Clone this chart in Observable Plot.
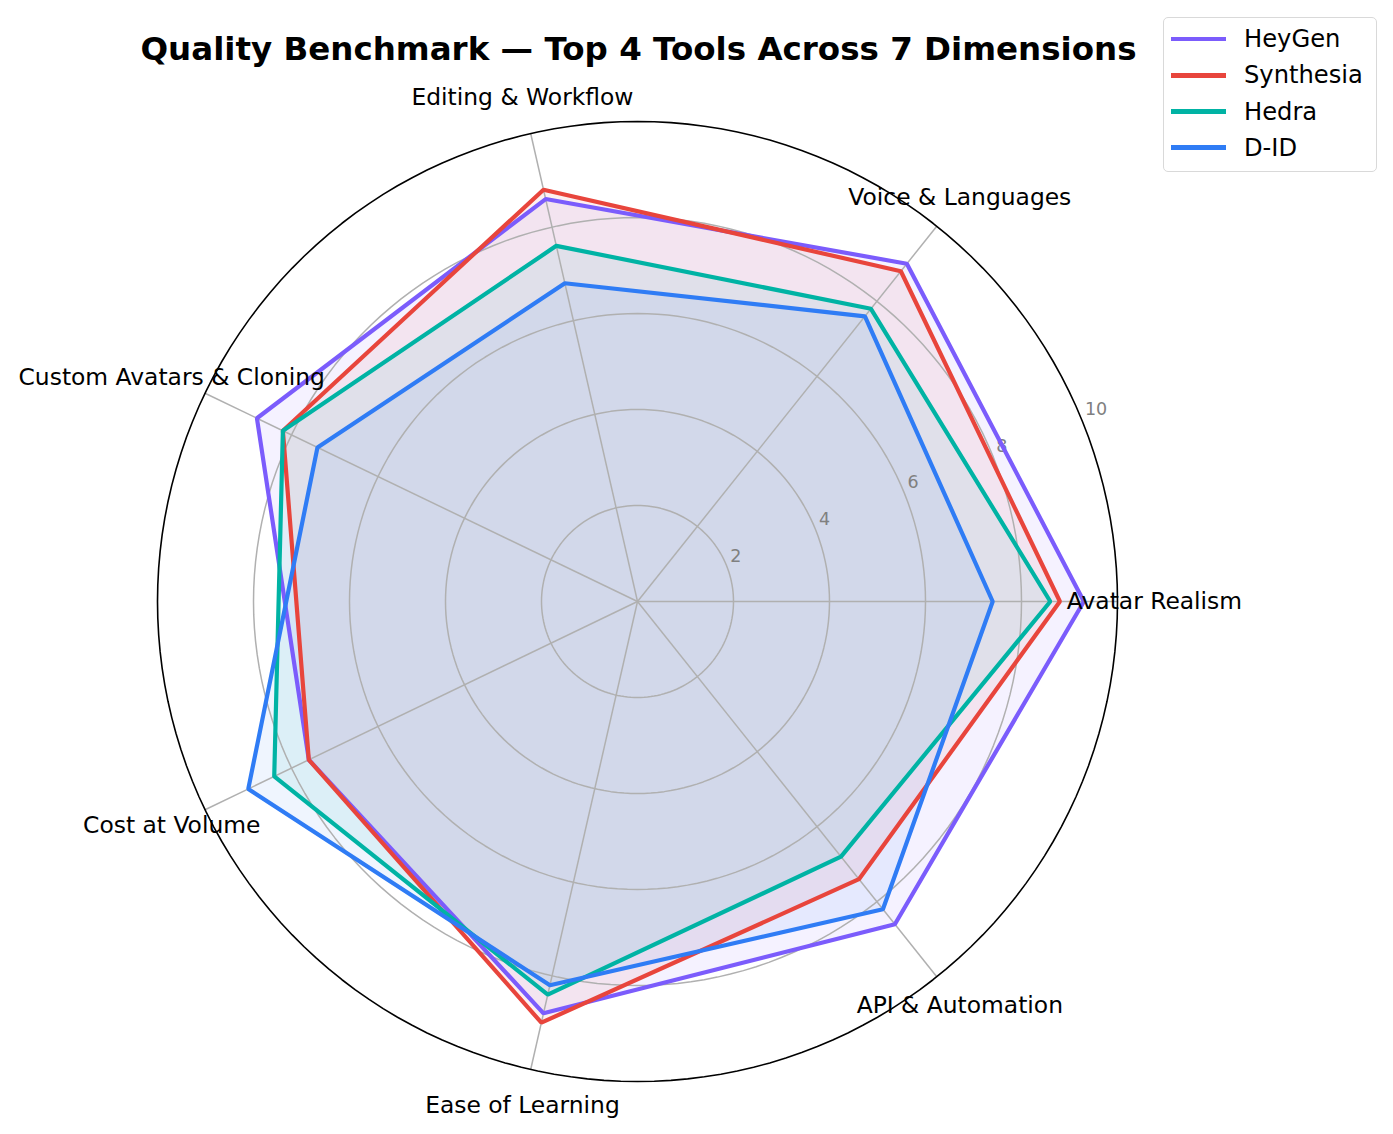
<!DOCTYPE html>
<html>
<head>
<meta charset="utf-8">
<script src="https://cdn.jsdelivr.net/npm/d3@7"></script>
<script src="https://cdn.jsdelivr.net/npm/@observablehq/plot@0.6"></script>
<style>
  html, body { margin: 0; padding: 0; background: #fff; }
  #wrap { position: relative; width: 1393px; height: 1134px; overflow: hidden; font-family: "DejaVu Sans", sans-serif; }
  #title { position: absolute; left: 0; top: 33px; width: 1277px; text-align: center; font-weight: bold; font-size: 32.5px; line-height: 32.5px; color: #000; white-space: nowrap; }
  #legend { position: absolute; left: 1163px; top: 17px; width: 212px; height: 153px; border: 1.5px solid #d9d9d9; border-radius: 5px; background: rgba(255,255,255,0.8); }
  .lg-row { position: absolute; left: 0; height: 36px; width: 212px; }
  .lg-line { position: absolute; left: 7px; top: 15.8px; width: 55px; height: 4.4px; }
  .lg-text { position: absolute; left: 80px; top: 0; line-height: 36px; font-size: 24.2px; color: #000; white-space: nowrap; }
  #chart { position: absolute; left: 0; top: 0; }
</style>
</head>
<body>
<div id="wrap">
  <div id="chart"></div>
  <div id="title"></div>
  <div id="legend"></div>
</div>
<script>
// ---- data ----
const titleText = "Quality Benchmark — Top 4 Tools Across 7 Dimensions";
const dimensions = ["Avatar Realism", "Voice & Languages", "Editing & Workflow", "Custom Avatars & Cloning", "Cost at Volume", "Ease of Learning", "API & Automation"];
const tools = ["HeyGen", "Synthesia", "Hedra", "D-ID"];
const heygen    = [9.3, 9.0, 8.6, 8.8, 7.6, 8.8, 8.6];
const synthesia = [8.8, 8.8, 8.8, 8.2, 7.6, 9.0, 7.4];
const hedra     = [8.6, 7.8, 7.6, 8.2, 8.4, 8.4, 6.8];
const did       = [7.4, 7.6, 6.8, 7.4, 9.0, 8.2, 8.2];
const radialTicks = [2, 4, 6, 8, 10];
const colors = ["#7b5cfc", "#e8453c", "#00b3a4", "#2f7cf5"];

// ---- layout ----
const W = 1393, H = 1134, CX = 637, CY = 601, K = 48;
const rMax = 10;
const labelR = 10.77;
const tickAngle = 22.5 * Math.PI / 180;

const series = [heygen, synthesia, hedra, did];
const angleOf = i => i * 2 * Math.PI / dimensions.length;

const rows = tools.flatMap((t, ti) => series[ti].map((v, i) => ({tool: t, dim: dimensions[i], value: v, a: angleOf(i)})));
const circleRows = radialTicks.flatMap(t => d3.range(0, 361, 2).map(deg => ({t, a: deg * Math.PI / 180})));
const spokes = dimensions.map((d, i) => ({dim: d, a: angleOf(i)}));

const px = d => d.value * Math.cos(d.a);
const py = d => d.value * Math.sin(d.a);

const chart = Plot.plot({
  width: W,
  height: H,
  margin: 0,
  x: {domain: [-CX / K, (W - CX) / K], axis: null},
  y: {domain: [-(H - CY) / K, CY / K], axis: null},
  color: {domain: tools, range: colors},
  style: {background: "white", fontFamily: "DejaVu Sans, sans-serif", overflow: "visible"},
  marks: [
    // fills
    Plot.line(rows, {x: px, y: py, z: "tool", fill: "tool", fillOpacity: 0.08, stroke: null, curve: "linear-closed"}),
    // grid circles
    Plot.line(circleRows.filter(d => d.t < rMax), {x: d => d.t * Math.cos(d.a), y: d => d.t * Math.sin(d.a), z: "t", stroke: "#b0b0b0", strokeWidth: 1.5}),
    // spokes
    Plot.link(spokes, {x1: 0, y1: 0, x2: d => rMax * Math.cos(d.a), y2: d => rMax * Math.sin(d.a), stroke: "#b0b0b0", strokeWidth: 1.5}),
    // radial tick labels
    Plot.text(radialTicks, {x: t => t * Math.cos(tickAngle), y: t => t * Math.sin(tickAngle), text: t => String(t), textAnchor: "start", lineAnchor: "bottom", dx: 4, dy: -3, fill: "#808080", fontSize: 17.5}),
    // series lines
    Plot.line(rows, {x: px, y: py, z: "tool", stroke: "tool", strokeWidth: 4.2, curve: "linear-closed", strokeLinejoin: "miter"}),
    // outer circle
    Plot.line(circleRows.filter(d => d.t === rMax), {x: d => d.t * Math.cos(d.a), y: d => d.t * Math.sin(d.a), stroke: "#000", strokeWidth: 1.6}),
    // category labels
    Plot.text(spokes, {x: d => labelR * Math.cos(d.a), y: d => labelR * Math.sin(d.a), text: "dim", textAnchor: "middle", lineAnchor: "middle", fill: "#000", fontSize: 23.4})
  ]
});
document.getElementById("chart").appendChild(chart);

document.getElementById("title").textContent = titleText;

const legend = document.getElementById("legend");
tools.forEach((t, i) => {
  const row = document.createElement("div");
  row.className = "lg-row";
  row.style.top = (3.3 + i * 36.1) + "px";
  const ln = document.createElement("div");
  ln.className = "lg-line";
  ln.style.background = colors[i];
  const tx = document.createElement("div");
  tx.className = "lg-text";
  tx.textContent = t;
  row.appendChild(ln);
  row.appendChild(tx);
  legend.appendChild(row);
});
</script>
</body>
</html>
